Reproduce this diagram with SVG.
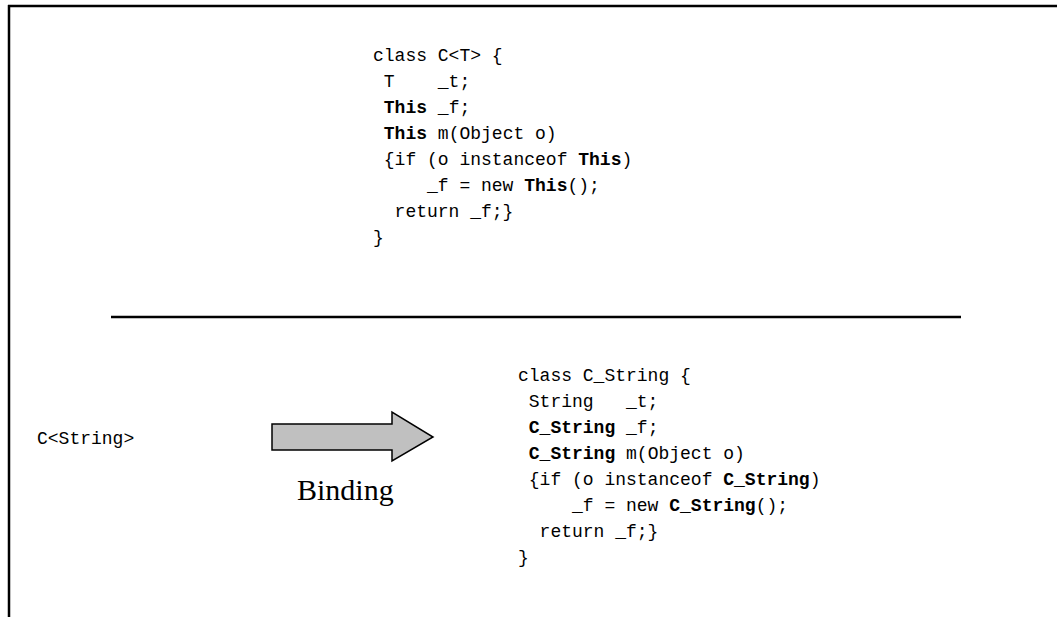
<svg xmlns="http://www.w3.org/2000/svg" width="1057" height="617" viewBox="0 0 1057 617">
  <style>
    .code { font-family: "Liberation Mono", "Courier New", monospace; font-size: 18px; fill: #000; }
    .kw { font-weight: bold; }
    .label { font-family: "Liberation Serif", "Times New Roman", serif; font-size: 30px; fill: #000; }
    .rule { stroke: #000; stroke-width: 2.5; fill: none; }
  </style>
  <rect width="1057" height="617" fill="#fff"/>

  <!-- frame: top and left edges -->
  <g id="frame">
    <line class="rule" x1="8" y1="6" x2="1057" y2="6"/>
    <line class="rule" x1="9" y1="5" x2="9" y2="617"/>
  </g>

  <!-- generic class declaration (indentation kept with non-breaking spaces) -->
  <g id="generic-class" class="code">
    <text x="373" y="61">class C&lt;T&gt; {</text>
    <text x="373" y="87">&#160;T&#160;&#160;&#160;&#160;_t;</text>
    <text x="373" y="113">&#160;<tspan class="kw">This</tspan>&#160;_f;</text>
    <text x="373" y="139">&#160;<tspan class="kw">This</tspan>&#160;m(Object o)</text>
    <text x="373" y="165">&#160;{if (o instanceof <tspan class="kw">This</tspan>)</text>
    <text x="373" y="191">&#160;&#160;&#160;&#160;&#160;_f = new <tspan class="kw">This</tspan>();</text>
    <text x="373" y="217">&#160;&#160;return _f;}</text>
    <text x="373" y="243">}</text>
  </g>

  <!-- separator -->
  <g id="separator">
    <line class="rule" x1="111" y1="317" x2="961" y2="317"/>
  </g>

  <!-- instantiation -->
  <g id="instantiation" class="code">
    <text x="37" y="444">C&lt;String&gt;</text>
  </g>

  <!-- binding arrow -->
  <g id="connectors">
    <path d="M272,424 H392 V412 L433,437 L392,461 V450 H272 Z" fill="#c0c0c0" stroke="#000" stroke-width="1.5" stroke-linejoin="miter"/>
  </g>
  <g id="binding-label">
    <text class="label" x="297" y="500">Binding</text>
  </g>

  <!-- specialised class -->
  <g id="bound-class" class="code">
    <text x="518" y="381">class C_String {</text>
    <text x="518" y="407">&#160;String&#160;&#160;&#160;_t;</text>
    <text x="518" y="433">&#160;<tspan class="kw">C_String</tspan>&#160;_f;</text>
    <text x="518" y="459">&#160;<tspan class="kw">C_String</tspan>&#160;m(Object o)</text>
    <text x="518" y="485">&#160;{if (o instanceof <tspan class="kw">C_String</tspan>)</text>
    <text x="518" y="511">&#160;&#160;&#160;&#160;&#160;_f = new <tspan class="kw">C_String</tspan>();</text>
    <text x="518" y="537">&#160;&#160;return _f;}</text>
    <text x="518" y="563">}</text>
  </g>
</svg>
